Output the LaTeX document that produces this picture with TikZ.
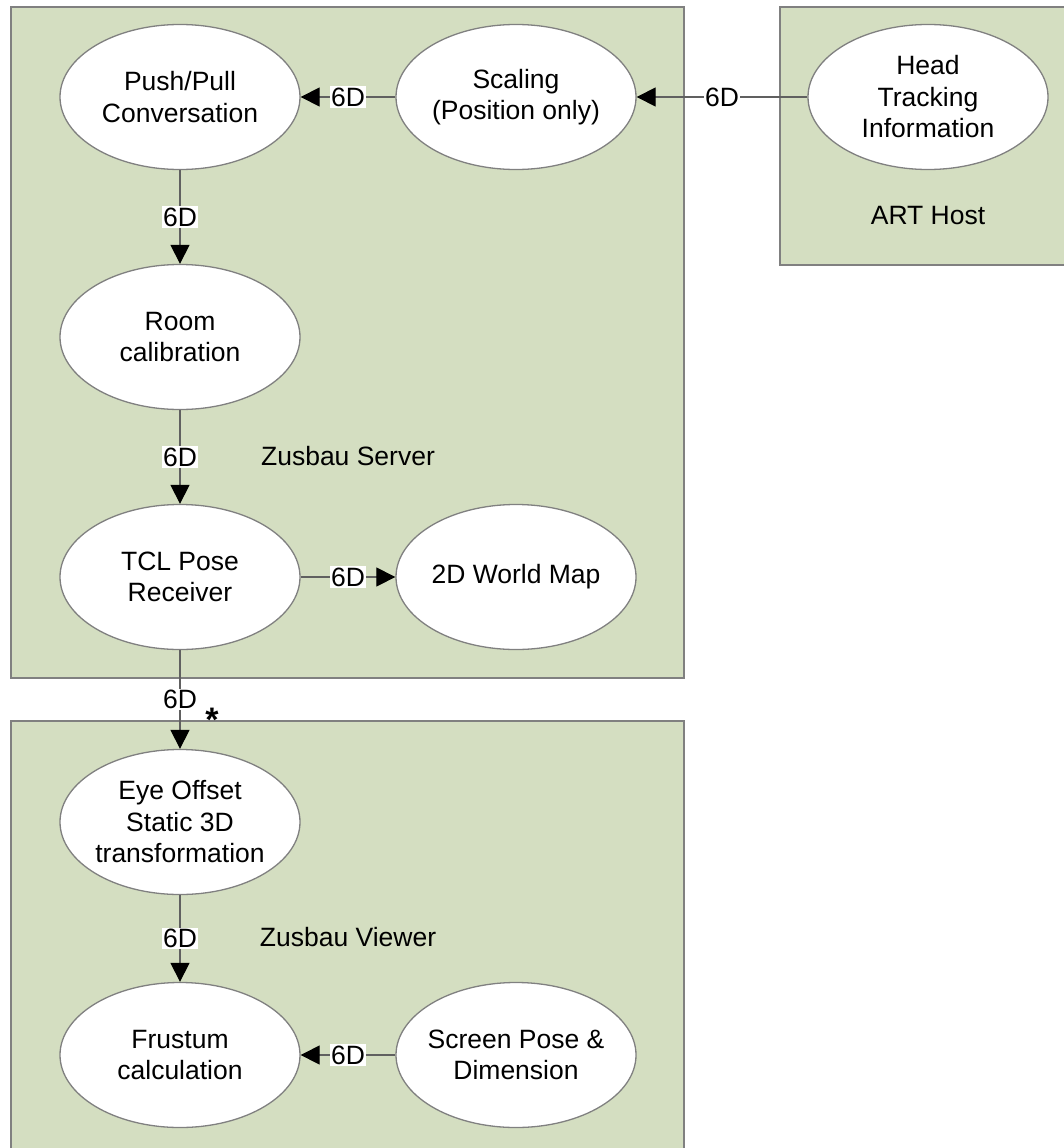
\documentclass[tikz,border=0pt]{standalone}
\usepackage{fontspec}
\setmainfont{Liberation Sans}
\usetikzlibrary{arrows.meta,shapes.geometric}
\definecolor{hostgreen}{RGB}{212,222,193}
\definecolor{rimgray}{RGB}{128,128,128}
\tikzset{
  block/.style={ellipse, draw=rimgray, line width=1.3pt, fill=white,
    minimum width=240pt, minimum height=145pt, inner sep=0pt, align=center},
  host/.style={draw=rimgray, line width=1.5pt, fill=hostgreen},
  flow/.style={draw=rimgray!75!black, line width=1.2pt,
    -{Triangle[length=19pt,width=19pt,color=black]}},
  tag/.style={fill=white, inner sep=1.5pt},
}
\newcommand{\feed}[2]{
  \draw [flow] (#1) to node[tag] {6D} (#2)
}

\begin{document}
\begin{tikzpicture}[x=1pt, y=-1pt, font=\fontsize{26.5}{31.5}\selectfont]
\useasboundingbox (0,0) rectangle (1064,1148);

% hosts
\draw [host] (11,7) rectangle (684,678);
\draw [host] (780,7) rectangle (1075,265);
\draw [host] (11,721) rectangle (684,1160);

\node (server) at (348,456) {Zusbau Server};
\node (art)    at (928,216) {ART Host};
\node (viewer) at (348,937) {Zusbau Viewer};

% ART host
\node [block] (head) at (928,97) {Head\\Tracking\\Information};

% server
\node [block] (scaling) at (516,97)  {Scaling\\(Position only)};
\node [block] (push)    at (180,97)  {Push/Pull\\Conversation};
\node [block] (room)    at (180,337) {Room\\calibration};
\node [block] (tcl)     at (180,577) {TCL Pose\\Receiver};
\node [block] (map)     at (516,577) {2D World Map};

% viewer
\node [block] (eye)     at (180,822)  {Eye Offset\\Static 3D\\transformation};
\node [block] (frustum) at (180,1055) {Frustum\\calculation};
\node [block, inner xsep=-5pt] (screen) at (516,1055) {Screen Pose \&\\Dimension};

% connect
\feed {head} {scaling};
\feed {scaling} {push};
\feed {push} {room};
\feed {room} {tcl};
\feed {tcl} {map};
\feed {tcl} {eye};
\feed {eye} {frustum};
\feed {screen} {frustum};

\node [anchor=base, font=\fontsize{34}{34}\selectfont\bfseries] (star) at (212,731) {*};

\end{tikzpicture}
\end{document}
